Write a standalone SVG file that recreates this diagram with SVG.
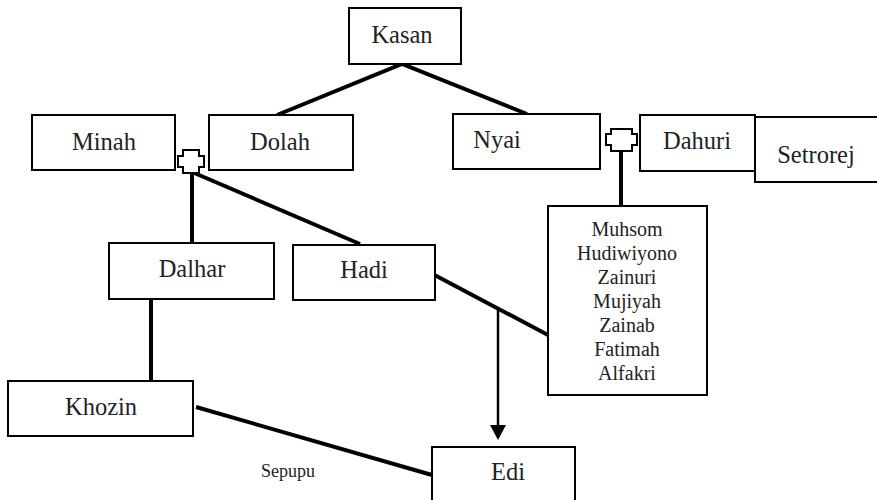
<svg xmlns="http://www.w3.org/2000/svg" width="877" height="500" viewBox="0 0 877 500">
<style>
.box{fill:#fff;stroke:#000;stroke-width:2}
text{font-family:"Liberation Serif","Times New Roman",serif;fill:#222;text-anchor:middle}
.lbl{font-size:24.5px}
.lst{font-size:20px}
.sm{font-size:18px}
.thick{stroke:#000;stroke-width:4;fill:none}
.thin{stroke:#000;stroke-width:2.5;fill:none}
.sym{fill:#fff;stroke:#000;stroke-width:2}
</style>
<rect width="877" height="500" fill="#fff"/>
<g id="connectors">
<polyline class="thick" points="277,115 402,64 527,114"/>
<line class="thick" x1="192" y1="172" x2="192" y2="244"/>
<line class="thick" x1="192" y1="172" x2="360" y2="244"/>
<line class="thick" x1="151" y1="299" x2="151" y2="381"/>
<line class="thick" x1="621" y1="148" x2="621" y2="206"/>
<line class="thick" x1="427" y1="271" x2="548" y2="335"/>
<line class="thick" x1="196" y1="407" x2="432" y2="475"/>
<line class="thin" x1="498" y1="309" x2="498" y2="427"/>
<polygon points="490,425 506,425 498,440" fill="#000"/>
</g>
<g id="kasan"><rect class="box" x="349" y="8" width="112" height="56"/><text class="lbl" x="402" y="43">Kasan</text></g>
<g id="minah"><rect class="box" x="32" y="115" width="143" height="55"/><text class="lbl" x="104" y="150">Minah</text></g>
<g id="dolah"><rect class="box" x="209" y="115" width="144" height="55"/><text class="lbl" x="280" y="150">Dolah</text></g>
<g id="marriage1"><path class="sym" d="M183,150 H199 V156 H204 V167 H199 V173 H183 V167 H178 V156 H183 Z"/></g>
<g id="nyai"><rect class="box" x="453" y="114" width="147" height="55"/><text class="lbl" x="497" y="148">Nyai</text></g>
<g id="marriage2"><path class="sym" d="M611,129 H632 V134 H637 V145 H632 V151 H611 V145 H606 V134 H611 Z"/></g>
<g id="dahuri"><rect class="box" x="640" y="115" width="115" height="56"/><text class="lbl" x="697" y="149">Dahuri</text></g>
<g id="setrorej"><rect class="box" x="755" y="117" width="130" height="65"/><text class="lbl" x="816" y="163">Setrorej</text></g>
<g id="dalhar"><rect class="box" x="109" y="243" width="165" height="56"/><text class="lbl" x="192" y="277">Dalhar</text></g>
<g id="hadi"><rect class="box" x="293" y="245" width="142" height="55"/><text class="lbl" x="364" y="278">Hadi</text></g>
<g id="children"><rect class="box" x="548" y="206" width="159" height="189"/>
<text class="lst" x="627" y="236">Muhsom</text>
<text class="lst" x="627" y="260">Hudiwiyono</text>
<text class="lst" x="627" y="284">Zainuri</text>
<text class="lst" x="627" y="308">Mujiyah</text>
<text class="lst" x="627" y="332">Zainab</text>
<text class="lst" x="627" y="356">Fatimah</text>
<text class="lst" x="627" y="380">Alfakri</text>
</g>
<g id="khozin"><rect class="box" x="8" y="381" width="185" height="55"/><text class="lbl" x="101" y="415">Khozin</text></g>
<g id="edi"><rect class="box" x="432" y="447" width="143" height="60"/><text class="lbl" x="508" y="480">Edi</text></g>
<g id="sepupu"><text class="sm" x="288" y="477">Sepupu</text></g>
</svg>
